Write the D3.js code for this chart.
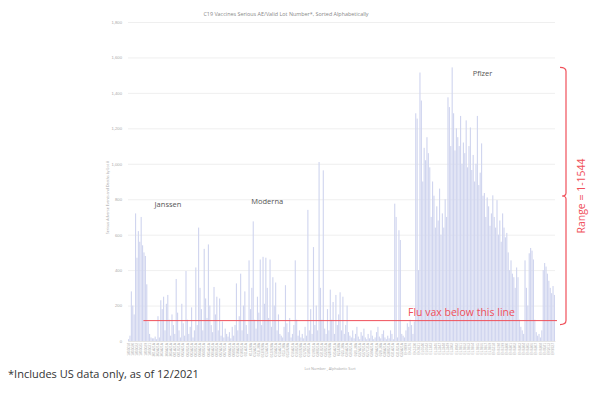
<!DOCTYPE html>
<html>
<head>
<meta charset="utf-8">
<script src="https://cdn.jsdelivr.net/npm/d3@7"></script>
<style>
  body { margin: 0; background: #fff; }
  svg { display: block; font-family: 'Open Sans', sans-serif; }
</style>
</head>
<body>
<div id="chart"></div>
<script>
// serious AE / deaths per lot, in alphabetical lot order
const janssen = [10, 30, 280, 200, 150, 720, 470, 620, 560, 700, 540, 500, 480, 320, 110, 40, 20, 15,
  15, 25, 10, 140, 20, 230, 180, 250, 60, 210, 260, 120, 30, 150, 90];
const moderna = [40, 350, 160, 60, 20, 210, 100, 30,
  395, 120, 40, 80, 190, 20, 60,
  415, 90, 640, 300, 180, 60, 520, 240,
  130, 545, 200, 90, 50, 305, 150,
  250, 60, 240, 30, 110, 20, 70, 40,
  25, 50, 15, 80, 30, 90, 325, 60,
  140, 380, 60, 200, 280, 90, 40, 455,
  180, 300, 675, 120, 70, 250, 160, 460,
  90, 475, 210, 470, 300, 130, 460, 80,
  360, 200, 330, 60, 150, 40, 30, 20,
  80, 315, 100, 50, 130, 20, 40, 90,
  455, 120, 30, 60, 20, 40, 15, 80,
  30, 740, 60, 180, 40, 530, 90, 200,
  60, 1010, 300, 120, 963, 70, 40, 180,
  60, 290, 120, 220, 40, 260, 90, 150,
  275, 60, 250, 40, 90, 200, 50, 30,
  20, 60, 15, 40, 80, 25, 10, 50, 30, 70, 20, 10,
  40, 15, 60, 30, 10, 20, 50, 80, 25, 15, 40, 60,
  20, 10, 30, 15, 60, 40, 10, 775,
  700, 20, 625, 570, 40, 30, 20];
const pfizer = [60, 100, 80, 120, 90, 40, 110,
  1285, 1255, 400, 1515, 1357, 900, 1090, 1020,
  1150, 1060, 980, 700, 900, 820, 640, 760,
  680, 860, 600, 720, 640, 800, 700, 1375,
  1320, 1100, 1544, 1285, 1075, 1200, 1150, 1100,
  1270, 1000, 1120, 1060, 1245, 980, 1100, 1205,
  965, 1050, 900, 1000, 1270, 880, 950, 1115,
  820, 835, 700, 810, 760, 650, 720, 822,
  700, 640, 795, 600, 680, 560, 720, 640,
  585, 610, 500, 400, 455, 380, 360, 300,
  415, 360, 120, 80, 60, 40, 455, 300,
  200, 495, 525, 510, 460, 120, 50, 30,
  40, 20, 60, 400, 440, 420, 380,
  340, 300, 270, 310, 260];

// every third lot gets a label on the x axis
const lotLabels = ['1805018', '1805020', '1805022', '1805025', '1805029', '1805031', '201A21A', '202A21A', '203A21A', '204A21A', '205A21A',
  '001A21A', '001B21A', '002A21A', '002B21A', '003A21A', '003B21A', '004A21A', '004B21A', '005A21A', '006A21A', '006B21A',
  '007A21A', '007B21A', '008A21A', '008B21A', '010A21A', '010B21A', '011A21A', '011J20A', '012A21A', '012L20A', '012M20A',
  '013A21A', '013M20A', '014A21A', '015A21A', '015L20A', '015M20A', '016A21A', '016B21A', '016M20A', '017B21A', '018B21A',
  '019B21A', '020B21A', '021B21A', '022B21A', '024M20A', '025A21A', '025J20A', '025L20A', '026A21A', '026B21A', '026L20A',
  '027A21A', '027B21A', '027C21A', '028A21A', '029A21A', '029L20A', '030A21A', '030B21A', '031A21A', '031B21A', '032A21A',
  'EH9899', 'EK4176', 'EK5730', 'EK9231', 'EL0140', 'EL0142', 'EL1283', 'EL3246', 'EL3247', 'EL3248', 'EL3249', 'EL3302',
  'EL8982', 'EL9261', 'EL9262', 'EL9263', 'EL9264', 'EL9265', 'EL9266', 'EL9267', 'EL9269', 'EN5318', 'EN6198', 'EN6199',
  'EN6200', 'EN6201', 'EN6202', 'EN6203', 'EN6204', 'EN6205', 'EN6206', 'EN6207', 'EN6208', 'EN9581', 'ER2613', 'ER8727'];

const yTicks = [0, 200, 400, 600, 800, 1000, 1200, 1400, 1600, 1800];
const fluLine = 115;
const rangeMin = 1, rangeMax = 1544;

const data = [].concat(
  janssen.map(v => ({maker: 'Janssen', value: v})),
  moderna.map(v => ({maker: 'Moderna', value: v})),
  pfizer.map(v => ({maker: 'Pfizer', value: v}))
);
data.forEach((d, i) => { d.i = i; });

const width = 603, height = 393;
const margin = {top: 22, right: 48, bottom: 52, left: 128};

const svg = d3.select('#chart').append('svg')
  .attr('width', width)
  .attr('height', height);

const x = d3.scaleBand()
  .domain(data.map(d => d.i))
  .range([margin.left, width - margin.right])
  .paddingInner(0.2);

const y = d3.scaleLinear()
  .domain([0, 1800])
  .range([height - margin.bottom, margin.top]);

// title
svg.append('text')
  .attr('x', 286)
  .attr('y', 16)
  .attr('text-anchor', 'middle')
  .style('font-size', '5.4px')
  .style('fill', '#888')
  .text('C19 Vaccines Serious AE/Valid Lot Number*, Sorted Alphabetically');

// gridlines + y labels
const yAxis = svg.append('g')
  .attr('transform', `translate(${margin.left},0)`)
  .call(d3.axisLeft(y).tickValues(yTicks).tickFormat(d3.format(','))
    .tickSize(-(width - margin.left - margin.right)).tickPadding(6));
yAxis.select('.domain').remove();
yAxis.selectAll('.tick line').attr('stroke', '#ebebeb').attr('stroke-width', 0.8);
yAxis.selectAll('.tick text').style('font-size', '4.2px').style('fill', '#aaa');

svg.append('text')
  .attr('transform', `translate(109,${(y(0) + y(1800)) / 2 + 16}) rotate(-90)`)
  .attr('text-anchor', 'middle')
  .style('font-size', '3.6px')
  .style('fill', '#aaa')
  .text('Serious Adverse Events and Deaths by Lot #');

// bars
svg.append('g')
  .selectAll('rect')
  .data(data)
  .enter()
  .append('rect')
  .attr('x', d => x(d.i))
  .attr('y', d => y(d.value))
  .attr('width', x.bandwidth())
  .attr('height', d => y(0) - y(d.value))
  .style('fill', '#d0d5ef');

// x labels
const xAxis = svg.append('g')
  .attr('transform', `translate(0,${y(0)})`)
  .call(d3.axisBottom(x)
    .tickValues(data.filter(d => d.i % 3 === 0).map(d => d.i))
    .tickFormat(i => lotLabels[i / 3])
    .tickSize(0).tickPadding(2));
xAxis.select('.domain').attr('stroke', '#dcdcdc').attr('stroke-width', 0.6);
xAxis.selectAll('.tick text')
  .attr('transform', 'rotate(-90)')
  .attr('text-anchor', 'end')
  .attr('dy', '0.35em')
  .attr('x', -2)
  .attr('y', 0)
  .style('font-size', '3.3px')
  .style('fill', '#b0b0b0');

svg.append('text')
  .attr('x', 330)
  .attr('y', 370)
  .attr('text-anchor', 'middle')
  .style('font-size', '3.8px')
  .style('fill', '#aaa')
  .text('Lot Number , Alphabetic Sort');

// manufacturer labels
const makerLabels = [
  {name: 'Janssen', at: 19, v: 755},
  {name: 'Moderna', at: 88, v: 775},
  {name: 'Pfizer', at: 246, v: 1495}
];
svg.selectAll('.maker')
  .data(makerLabels)
  .enter()
  .append('text')
  .attr('class', 'maker')
  .attr('x', d => x(d.at))
  .attr('y', d => y(d.v))
  .style('font-size', '7.5px')
  .style('fill', '#555')
  .text(d => d.name);

// flu vax line
const red = '#f0505a';
svg.append('line')
  .attr('x1', x(11))
  .attr('x2', width - margin.right + 2)
  .attr('y1', y(fluLine))
  .attr('y2', y(fluLine))
  .attr('stroke', red)
  .attr('stroke-width', 1);

svg.append('text')
  .attr('x', 408)
  .attr('y', y(fluLine) - 5)
  .style('font-size', '10.5px')
  .style('fill', red)
  .text('Flu vax below this line');

// range bracket
const bx = 566, bTop = y(rangeMax), bBot = y(fluLine) + 4, bMid = (bTop + bBot) / 2;
svg.append('path')
  .attr('d', `M${bx - 6},${bTop} Q${bx},${bTop} ${bx},${bTop + 4} L${bx},${bMid - 3} Q${bx},${bMid} ${bx - 4},${bMid} Q${bx},${bMid} ${bx},${bMid + 3} L${bx},${bBot - 4} Q${bx},${bBot} ${bx - 6},${bBot}`)
  .attr('fill', 'none')
  .attr('stroke', red)
  .attr('stroke-width', 1.2);

svg.append('text')
  .attr('transform', `translate(585,${bMid}) rotate(-90)`)
  .attr('text-anchor', 'middle')
  .style('font-size', '10.5px')
  .style('fill', red)
  .text(`Range = ${rangeMin}-${rangeMax}`);

// footnote
svg.append('text')
  .attr('x', 8)
  .attr('y', 378)
  .style('font-size', '11px')
  .style('fill', '#333')
  .text('*Includes US data only, as of 12/2021');
</script>
</body>
</html>
